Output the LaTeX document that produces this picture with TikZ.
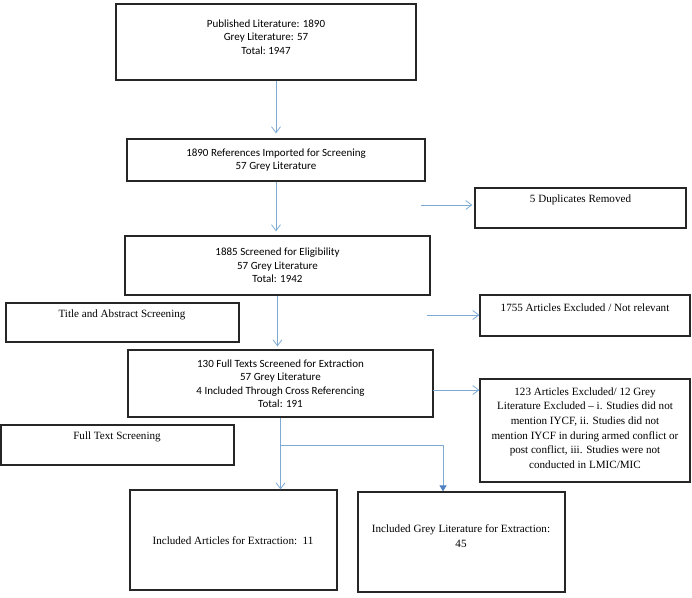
\documentclass[tikz,border=0pt]{standalone}
\usepackage{fontspec}
\setmainfont{Liberation Serif}
\newfontfamily\calib{Carlito}
\usetikzlibrary{arrows.meta,calc}
\definecolor{flowblue}{RGB}{125,170,210}
\definecolor{tipblue}{RGB}{80,130,195}
\begin{document}
\begin{tikzpicture}[x=1pt,y=-1pt,
  box/.style={draw=black!85,line width=1.2pt,inner sep=0pt,fill=none},
  ctext/.style={font=\calib\fontsize{11}{13.5}\selectfont,align=center,inner sep=0pt},
  stext/.style={font=\fontsize{11.1}{14.6}\selectfont,align=center,inner sep=0pt},
  flow/.style={draw=flowblue,line width=0.8pt,-{Straight Barb[length=6pt,width=9pt,line width=0.8pt]}},
  flowfill/.style={draw=flowblue,line width=0.8pt,-{Triangle[length=6pt,width=7pt,fill=tipblue,color=tipblue]}},
  plain/.style={draw=flowblue,line width=0.8pt}]
\useasboundingbox (0,0) rectangle (692,597);
% boxes
\node[box,minimum width=300pt,minimum height=76pt] (b1) at (266,42) {};
\node[ctext] (t1) at (266,37) {Published Literature: 1890\\Grey Literature: 57\\Total:\ 1947};
\node[box,minimum width=298pt,minimum height=42pt,ctext] (b2) at (276,160) {1890 References Imported for Screening\\57 Grey Literature};
\node[box,minimum width=305pt,minimum height=59pt,ctext] (b3) at (277.5,265.5) {1885 Screened for Eligibility\\57 Grey Literature\\Total: 1942};
\node[box,minimum width=211pt,minimum height=40pt] (dup) at (580.5,208) {};
\node[stext] (tdup) at (580.5,200) {5 Duplicates Removed};
\node[box,minimum width=210pt,minimum height=41pt] (ex1) at (585,315.5) {};
\node[stext] (tex1) at (585,308) {1755 Articles Excluded / Not relevant};
\node[box,minimum width=233pt,minimum height=39pt] (ta) at (122.5,322.5) {};
\node[stext] (tta) at (122,315) {Title and Abstract Screening};
\node[box,minimum width=305pt,minimum height=67pt,ctext] (b4) at (280.5,383.5) {130 Full Texts Screened for Extraction\\57 Grey Literature\\4 Included Through Cross Referencing\\Total: 191};
\node[box,minimum width=210pt,minimum height=103pt] (ex2) at (585,430.5) {};
\node[stext] (tex2) at (585,428) {123 Articles Excluded/ 12 Grey\\Literature Excluded -- i. Studies did not\\mention IYCF, ii. Studies did not\\mention IYCF in during armed conflict or\\post conflict, iii. Studies were not\\conducted in LMIC/MIC};
\node[box,minimum width=233pt,minimum height=40pt] (ft) at (117.5,445) {};
\node[stext] (tft) at (117,437) {Full Text Screening};
\node[box,minimum width=207pt,minimum height=100pt] (inL) at (233.5,540) {};
\node[stext] (tinL) at (233,541) {Included Articles for Extraction:\ \ 11};
\node[box,minimum width=207pt,minimum height=100pt] (inR) at (461.5,542) {};
\node[stext] (tinR) at (461,536) {Included Grey Literature for Extraction:\\45};
% connectors
\draw[flow,shorten >=5pt] (b2.north |- b1.south) -- (b2.north);
\draw[flow,shorten >=4pt] (b2.south) -- (b2.south |- b3.north);
\draw[flow,shorten >=3pt] (b3.south) -- (b3.south |- b4.north);
\coordinate (d0) at (421,205);
\draw[flow,shorten >=2pt] (d0) -- (d0 -| dup.west);
\coordinate (e1s) at (427,315);
\draw[flow] (e1s) -- (e1s -| ex1.west);
\coordinate (e2s) at (433,390);
\draw[flow] (e2s) -- (e2s -| ex2.west);
\coordinate (split) at (280.5,445);
\coordinate (rj) at (443,445);
\draw[plain] (b4.south) -- (split);
\draw[flow] (split) -- (split |- inL.north);
\draw[flowfill] (split) -- (rj) -- (rj |- inR.north);
\end{tikzpicture}
\end{document}
